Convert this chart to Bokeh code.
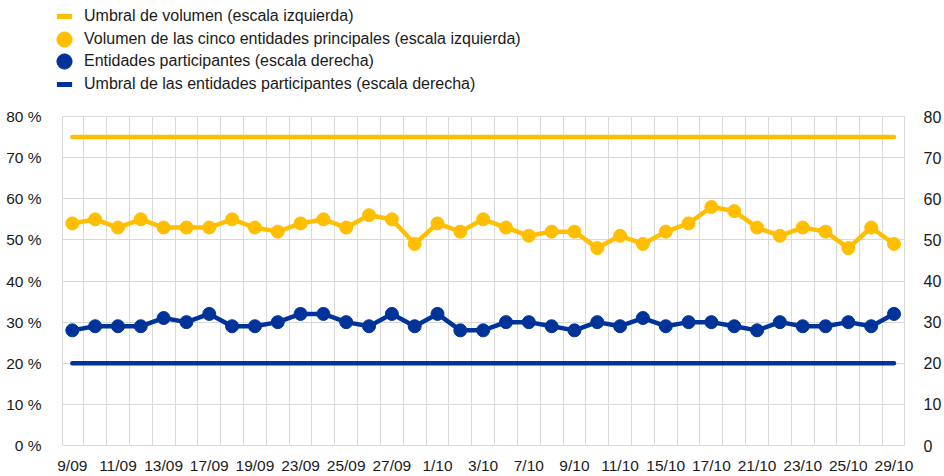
from bokeh.plotting import figure
from bokeh.layouts import column
from bokeh.models import Range1d, LinearAxis, FixedTicker, Legend, LegendItem, ColumnDataSource
from bokeh.embed import file_html
from bokeh.resources import INLINE

# ---- data ----
dates = ["9/09", "10/09", "11/09", "12/09", "13/09", "16/09", "17/09", "18/09", "19/09", "20/09",
         "23/09", "24/09", "25/09", "26/09", "27/09", "30/09", "1/10", "2/10", "3/10", "4/10",
         "7/10", "8/10", "9/10", "10/10", "11/10", "14/10", "15/10", "16/10", "17/10", "18/10",
         "21/10", "22/10", "23/10", "24/10", "25/10", "28/10", "29/10"]
volumen_cinco = [54, 55, 53, 55, 53, 53, 53, 55, 53, 52,
                 54, 55, 53, 56, 55, 49, 54, 52, 55, 53,
                 51, 52, 52, 48, 51, 49, 52, 54, 58, 57,
                 53, 51, 53, 52, 48, 53, 49]
entidades_participantes = [28, 29, 29, 29, 31, 30, 32, 29, 29, 30,
                           32, 32, 30, 29, 32, 29, 32, 28, 28, 30,
                           30, 29, 28, 30, 29, 31, 29, 30, 30, 29,
                           28, 30, 29, 29, 30, 29, 32]
umbral_volumen = 75
umbral_entidades = 20
y_ticks = [0, 10, 20, 30, 40, 50, 60, 70, 80]
left_tick_labels = ["0 %", "10 %", "20 %", "30 %", "40 %", "50 %", "60 %", "70 %", "80 %"]
right_tick_labels = ["0", "10", "20", "30", "40", "50", "60", "70", "80"]
legend_labels = ["Umbral de volumen (escala izquierda)",
                 "Volumen de las cinco entidades principales (escala izquierda)",
                 "Entidades participantes (escala derecha)",
                 "Umbral de las entidades participantes (escala derecha)"]

YELLOW = "#FFBF00"
BLUE = "#003399"
FONT = "Liberation Sans"
TXT = "#1a1a1a"
GRID = "#d9d9d9"

n = len(dates)
idx = list(range(n))
src = ColumnDataSource(dict(
    x=idx,
    vol=volumen_cinco,
    ent=entidades_participantes,
    uv=[umbral_volumen] * n,
    ue=[umbral_entidades] * n,
))

# ---- legend strip (its own figure; data kept out of view) ----
LG_H = 104
lg = figure(width=944, height=LG_H, output_backend="svg", toolbar_location=None,
            x_axis_type=None, y_axis_type=None,
            x_range=Range1d(-1000, -999), y_range=Range1d(-1000, -999),
            min_border_left=0, min_border_right=0, min_border_top=0, min_border_bottom=0)
lg.frame_align = False
lg.outline_line_color = None
lg.grid.visible = False
l1 = lg.scatter("x", "uv", source=src, marker="dash", size=1, line_color=YELLOW, line_width=5)
l2 = lg.scatter("x", "vol", source=src, size=13, fill_color=YELLOW, line_color=YELLOW)
l3 = lg.scatter("x", "ent", source=src, size=13, fill_color=BLUE, line_color=BLUE)
l4 = lg.scatter("x", "ue", source=src, marker="dash", size=1, line_color=BLUE, line_width=5)
row_centers = [16, 38.5, 61, 84]   # px from top of the legend strip
for t, r, c in zip(legend_labels, [l1, l2, l3, l4], row_centers):
    leg = Legend(items=[LegendItem(label=t, renderers=[r])],
                 location=(45, int(round(LG_H - (c + 19)))), glyph_width=38, glyph_height=38,
                 label_height=38, spacing=0, padding=0, margin=0, label_standoff=1,
                 background_fill_alpha=0, border_line_color=None,
                 label_text_font=FONT, label_text_font_size="16px", label_text_color=TXT)
    lg.add_layout(leg)

# ---- main chart ----
p = figure(width=944, height=476 - LG_H, output_backend="svg", toolbar_location=None,
           x_range=Range1d(-0.43, 36.46), y_range=Range1d(0, 80),
           min_border_left=62, min_border_right=34, min_border_top=116 - LG_H, min_border_bottom=29)
p.frame_align = False
p.outline_line_color = GRID
p.outline_line_width = 1

p.line("x", "uv", source=src, line_color=YELLOW, line_width=4.5, line_cap="round")
p.line("x", "vol", source=src, line_color=YELLOW, line_width=4.5, line_join="round")
p.scatter("x", "vol", source=src, size=13, fill_color=YELLOW, line_color=YELLOW)
p.line("x", "ent", source=src, line_color=BLUE, line_width=4.5, line_join="round")
p.scatter("x", "ent", source=src, size=13, fill_color=BLUE, line_color=BLUE)
p.line("x", "ue", source=src, line_color=BLUE, line_width=4.5, line_cap="round")

def style_axis(ax, standoff, size="15.5px"):
    ax.axis_line_color = None
    ax.major_tick_line_color = None
    ax.minor_tick_line_color = None
    ax.major_label_standoff = standoff
    ax.major_label_text_font = FONT
    ax.major_label_text_font_size = size
    ax.major_label_text_color = TXT

xax = p.xaxis[0]
xax.ticker = FixedTicker(ticks=idx[::2])
xax.major_label_overrides = {i: dates[i] for i in idx[::2]}
style_axis(xax, 5)

yax = p.yaxis[0]
yax.ticker = FixedTicker(ticks=y_ticks)
yax.major_label_overrides = dict(zip(y_ticks, left_tick_labels))
style_axis(yax, 15)

rax = LinearAxis(ticker=FixedTicker(ticks=y_ticks))
rax.major_label_overrides = dict(zip(y_ticks, right_tick_labels))
style_axis(rax, 13, "16px")
p.add_layout(rax, "right")

p.xgrid.ticker = FixedTicker(ticks=[i + 0.5 for i in idx[:-1]])
p.xgrid.grid_line_color = GRID
p.ygrid.ticker = FixedTicker(ticks=y_ticks)
p.ygrid.grid_line_color = GRID

layout = column(lg, p, spacing=0)
open("out.html", "w").write(file_html(layout, INLINE))
